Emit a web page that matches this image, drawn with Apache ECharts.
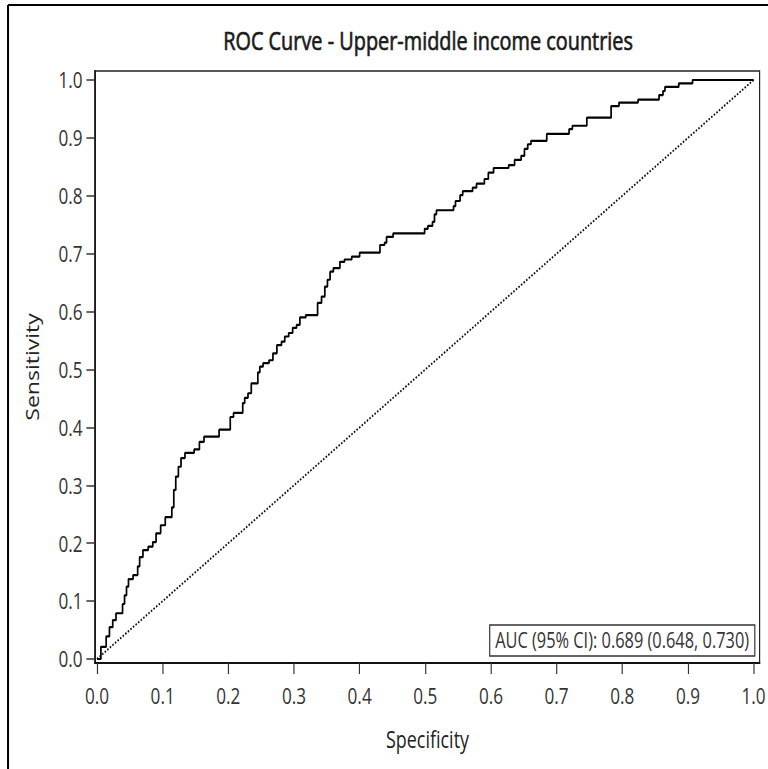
<!DOCTYPE html>
<html>
<head>
<meta charset="utf-8">
<script src="https://cdn.jsdelivr.net/npm/echarts@6/dist/echarts.min.js"></script>
<style>
html, body { margin: 0; padding: 0; overflow: hidden; background: #fff; width: 768px; height: 769px; }
#chart { width: 985px; height: 769px; transform: scaleX(0.7797); transform-origin: 0 0; }
</style>
</head>
<body>
<div id="chart"></div>
<script>
// ROC curve vertices (specificity axis = x, sensitivity = y)
const rocX = [0, 0.006, 0.014, 0.019, 0.024, 0.029, 0.039, 0.042, 0.045, 0.048, 0.055, 0.062, 0.065, 0.070, 0.078, 0.085, 0.090, 0.097, 0.104, 0.114, 0.117, 0.120, 0.124, 0.128, 0.134, 0.148, 0.156, 0.163, 0.186, 0.203, 0.208, 0.222, 0.225, 0.230, 0.235, 0.245, 0.248, 0.253, 0.262, 0.268, 0.274, 0.281, 0.286, 0.292, 0.298, 0.304, 0.309, 0.318, 0.336, 0.342, 0.347, 0.351, 0.355, 0.360, 0.370, 0.377, 0.388, 0.400, 0.431, 0.438, 0.441, 0.451, 0.499, 0.504, 0.511, 0.514, 0.517, 0.543, 0.546, 0.553, 0.557, 0.572, 0.578, 0.590, 0.596, 0.604, 0.627, 0.636, 0.646, 0.651, 0.656, 0.661, 0.685, 0.719, 0.724, 0.746, 0.783, 0.795, 0.824, 0.856, 0.862, 0.865, 0.886, 0.907, 1.0];
const rocY = [0, 0.021, 0.039, 0.055, 0.067, 0.079, 0.095, 0.110, 0.125, 0.138, 0.145, 0.160, 0.176, 0.188, 0.194, 0.202, 0.217, 0.231, 0.245, 0.262, 0.292, 0.315, 0.332, 0.347, 0.356, 0.362, 0.375, 0.384, 0.396, 0.418, 0.425, 0.442, 0.451, 0.459, 0.476, 0.495, 0.505, 0.511, 0.516, 0.528, 0.542, 0.548, 0.557, 0.563, 0.572, 0.577, 0.590, 0.594, 0.615, 0.626, 0.643, 0.655, 0.669, 0.675, 0.686, 0.690, 0.695, 0.702, 0.715, 0.719, 0.729, 0.735, 0.743, 0.748, 0.755, 0.768, 0.775, 0.782, 0.791, 0.801, 0.808, 0.814, 0.821, 0.829, 0.840, 0.848, 0.853, 0.862, 0.869, 0.881, 0.889, 0.895, 0.907, 0.915, 0.921, 0.935, 0.955, 0.961, 0.966, 0.974, 0.981, 0.988, 0.994, 1.0, 1.0];
const diagX = [0, 1];
const diagY = [0, 1];
const xTicks = [0, 0.1, 0.2, 0.3, 0.4, 0.5, 0.6, 0.7, 0.8, 0.9, 1.0];
const yTicks = [0, 0.1, 0.2, 0.3, 0.4, 0.5, 0.6, 0.7, 0.8, 0.9, 1.0];
const titleText = 'ROC Curve - Upper-middle income countries';
const xName = 'Specificity';
const yName = 'Sensitivity';
const aucText = 'AUC (95% CI): 0.689 (0.648, 0.730)';

const FONT = "'Open Sans', 'DejaVu Sans', sans-serif";
const chart = echarts.init(document.getElementById('chart'), null, { renderer: 'svg' });

const rocData = rocX.map((x, i) => [x, rocY[i]]);
const diagData = diagX.map((x, i) => [x, diagY[i]]);

const option = {
  animation: false,
  backgroundColor: '#fff',
  title: [
    {
      text: titleText,
      left: 544, top: 23, textAlign: 'center',
      textStyle: { fontFamily: FONT, fontSize: 25.5, fontWeight: 'normal', color: '#1a1a1a', textBorderColor: '#1a1a1a', textBorderWidth: 0.7 }
    },
    {
      text: aucText,
      right: 17, bottom: 113,
      padding: [4, 7],
      borderColor: '#333', borderWidth: 1.5,
      textStyle: { fontFamily: FONT, fontSize: 21, fontWeight: 'normal', color: '#333', lineHeight: 23 }
    }
  ],
  grid: { left: 121.8, right: 10.3, top: 71, bottom: 106, show: true, borderColor: '#222', borderWidth: 1.5, containLabel: false },
  xAxis: {
    type: 'value', min: -0.00304, max: 1.00913,
    axisLine: { show: true, onZero: false, lineStyle: { color: '#111', width: 2 } },
    axisTick: { show: true, length: 11, customValues: xTicks, lineStyle: { color: '#333', width: 1.5 } },
    axisLabel: { show: true, customValues: xTicks, margin: 22, fontFamily: FONT, fontSize: 22, color: '#333', formatter: v => v.toFixed(1) },
    splitLine: { show: false }
  },
  yAxis: {
    type: 'value', min: -0.0069, max: 1.01554,
    axisLine: { show: true, onZero: false, lineStyle: { color: '#111', width: 2 } },
    axisTick: { show: true, length: 11, customValues: yTicks, lineStyle: { color: '#333', width: 1.5 } },
    axisLabel: { show: true, customValues: yTicks, margin: 16, fontFamily: FONT, fontSize: 22, color: '#333', formatter: v => v.toFixed(1) },
    splitLine: { show: false }
  },
  series: [
    {
      type: 'line', data: diagData, showSymbol: false, silent: true,
      lineStyle: { color: '#111', width: 2, type: [2, 2] }
    },
    {
      type: 'line', data: rocData, step: 'end', showSymbol: false, silent: true,
      lineStyle: { color: '#000', width: 2.2 }
    }
  ],
  graphic: [
    { type: 'line', shape: { x1: 10.3, y1: 5, x2: 10.3, y2: 769 }, style: { stroke: '#000', lineWidth: 2.6 } },
    { type: 'line', shape: { x1: 10.3, y1: 5, x2: 985, y2: 5 }, style: { stroke: '#000', lineWidth: 2 } },
    { type: 'text', x: 41, y: 367, rotation: Math.PI / 2,
      style: { text: yName, fontFamily: FONT, fontSize: 23, fill: '#222', align: 'center', verticalAlign: 'middle' } },
    { type: 'text', x: 548.3, y: 739,
      style: { text: xName, fontFamily: FONT, fontSize: 23, fill: '#222', align: 'center', verticalAlign: 'middle' } }
  ]
};
chart.setOption(option);
</script>
</body>
</html>
